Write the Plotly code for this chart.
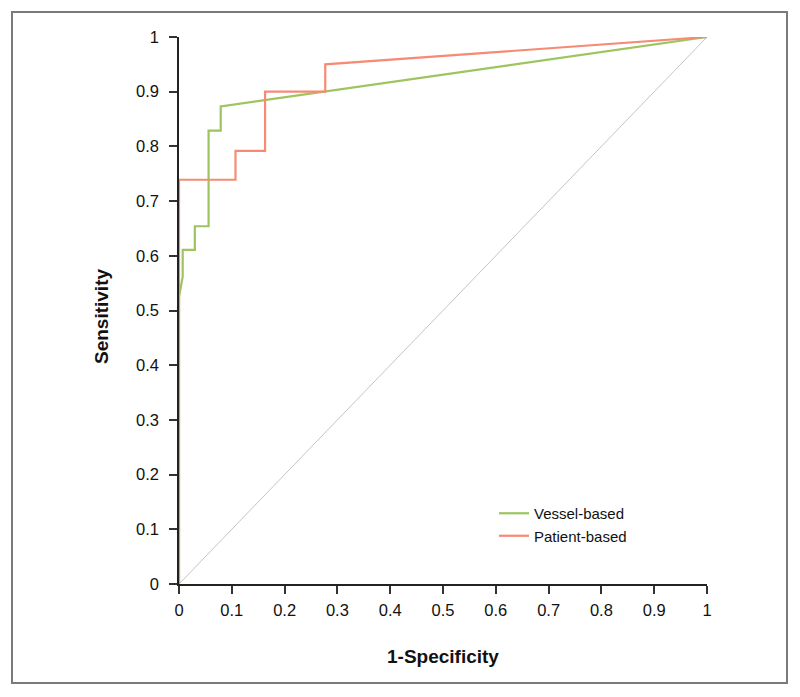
import plotly.graph_objects as go

# ROC curves (1-specificity, sensitivity)
vessel_fpr = [0, 0, 0.007, 0.007, 0.030, 0.030, 0.056, 0.056, 0.079, 0.079, 1.0]
vessel_tpr = [0, 0.525, 0.562, 0.611, 0.611, 0.654, 0.654, 0.829, 0.829, 0.873, 1.0]

patient_fpr = [0, 0, 0.107, 0.107, 0.163, 0.163, 0.277, 0.277, 1.0]
patient_tpr = [0, 0.739, 0.739, 0.792, 0.792, 0.900, 0.900, 0.950, 1.0]

ref_line = [0, 1]
tick_vals = [i / 10 for i in range(11)]
tick_text = ["0", "0.1", "0.2", "0.3", "0.4", "0.5", "0.6", "0.7", "0.8", "0.9", "1"]

GREEN = "#9dc45f"
SALMON = "#f58b74"
FONT = "Liberation Sans, Arial, sans-serif"

# plot area in figure pixels (page is offset by the 8px body margin)
L, R, T, B = 171, 699, 29, 576
W, H = 784, 681
PW, PH = R - L, B - T

fig = go.Figure()
fig.add_trace(go.Scatter(x=ref_line, y=ref_line, mode="lines", showlegend=False,
                         line=dict(color="#c4c4c4", width=1), hoverinfo="skip"))
fig.add_trace(go.Scatter(x=vessel_fpr, y=vessel_tpr, mode="lines", name="Vessel-based",
                         line=dict(color=GREEN, width=2.2)))
fig.add_trace(go.Scatter(x=patient_fpr, y=patient_tpr, mode="lines", name="Patient-based",
                         line=dict(color=SALMON, width=2.2)))

axis_common = dict(
    range=[0, 1], tickvals=tick_vals, ticktext=tick_text,
    showgrid=False, zeroline=False, showline=True, linecolor="#222", linewidth=1.5,
    ticks="outside", ticklen=8, tickwidth=1.5, tickcolor="#333",
    tickfont=dict(family=FONT, size=16.5, color="#111"),
)
fig.update_xaxes(**axis_common, ticklabelstandoff=2)
fig.update_yaxes(**axis_common, ticklabelstandoff=7)

# axis titles placed as annotations
fig.add_annotation(text="<b>1-Specificity</b>", xref="paper", yref="paper",
                   x=0.5, y=(B - 648) / PH, xanchor="center", yanchor="middle",
                   showarrow=False, font=dict(family=FONT, size=19, color="#111"))
fig.add_annotation(text="<b>Sensitivity</b>", xref="paper", yref="paper",
                   x=(93 - L) / PW, y=(B - 309) / PH, xanchor="center", yanchor="middle",
                   textangle=-90, showarrow=False, font=dict(family=FONT, size=19, color="#111"))

# grey frame around the whole figure
fig.add_shape(type="rect", xref="paper", yref="paper",
              x0=(4 - L) / PW, x1=(779 - L) / PW,
              y0=(B - 675) / PH, y1=(B - 4) / PH,
              line=dict(color="#7a7a7a", width=2), layer="below")

fig.update_layout(
    width=W, height=H, template="plotly_white",
    plot_bgcolor="white", paper_bgcolor="white",
    margin=dict(l=L, r=W - R, t=T, b=H - B),
    font=dict(family=FONT, color="#111"),
    legend=dict(x=(486 - L) / PW, y=(B - 489) / PH, xanchor="left", yanchor="top",
                font=dict(family=FONT, size=15, color="#111"), bgcolor="rgba(0,0,0,0)"),
)

fig.write_html("out.html")
